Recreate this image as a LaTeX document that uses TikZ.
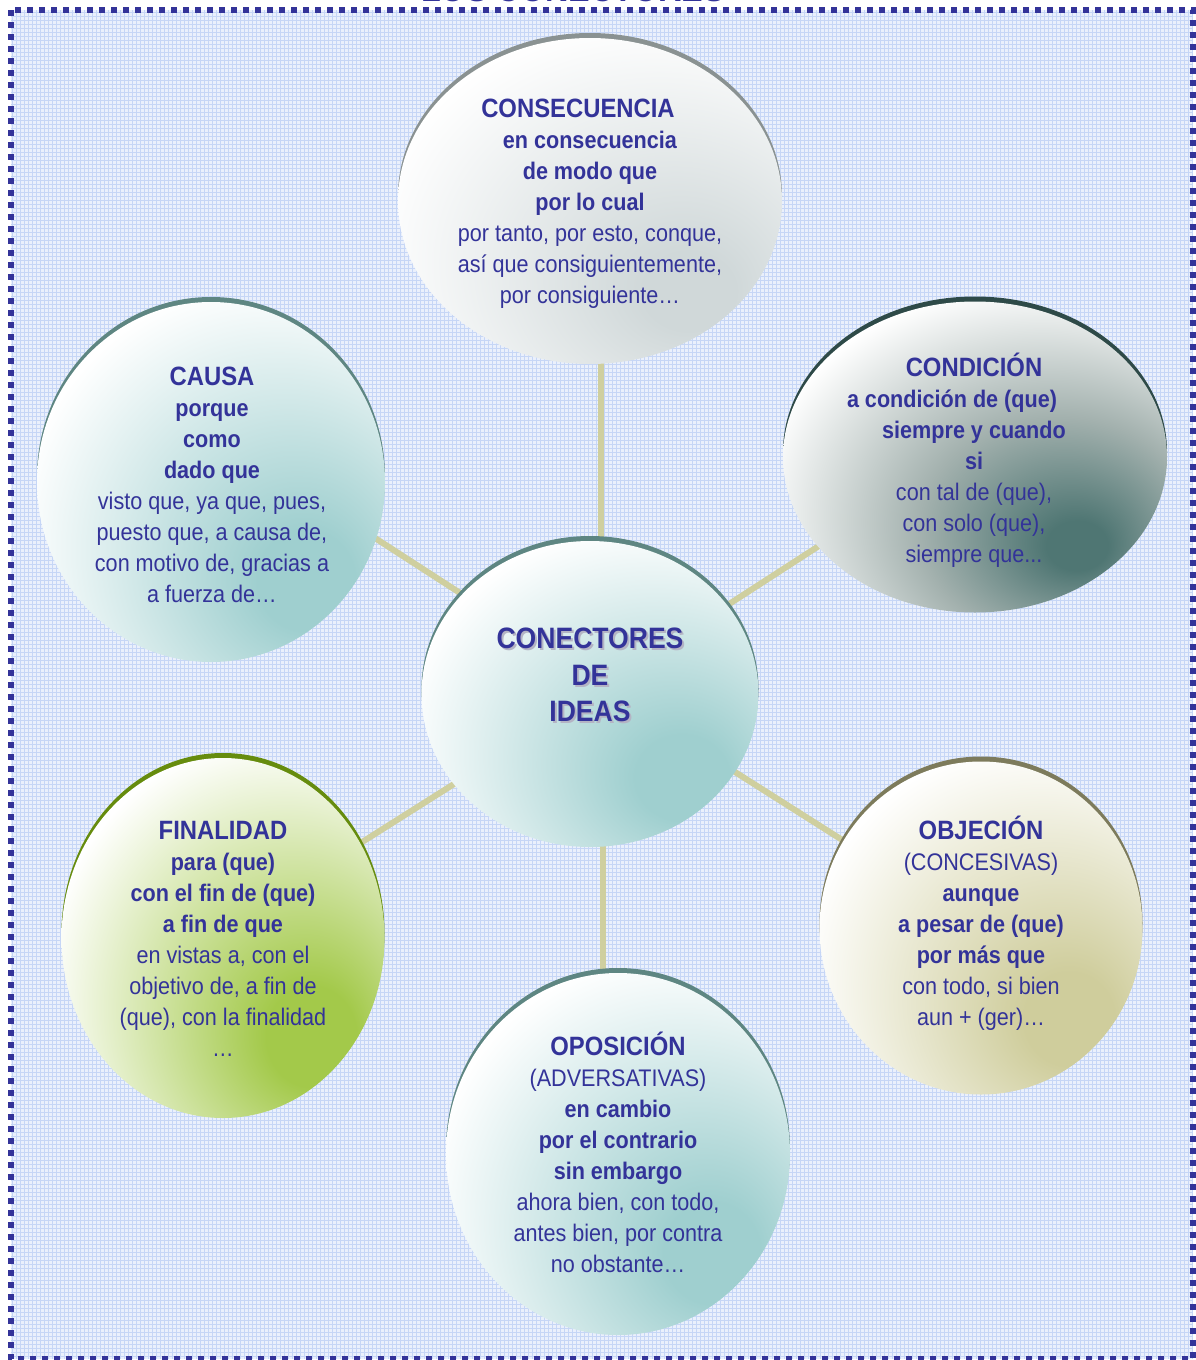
\documentclass[tikz,border=0pt]{standalone}
\usepackage{fontspec}
\setmainfont{Liberation Sans}[FakeStretch=0.9]
\usetikzlibrary{shapes.geometric}
\definecolor{ink}{HTML}{333399}
\definecolor{shadowc}{HTML}{B4B4C4}
\definecolor{bgfill}{HTML}{EAF0FC}
\definecolor{gridc}{HTML}{C6D6F6}
\definecolor{connc}{HTML}{CFCF9F}
\definecolor{dCons}{HTML}{D0D8D9}
\definecolor{rCons}{HTML}{8A9292}
\definecolor{dCond}{HTML}{4F7673}
\definecolor{mCond}{HTML}{A3B1AE}
\definecolor{rCond}{HTML}{2E4A48}
\definecolor{dTeal}{HTML}{9FCFCF}
\definecolor{rTeal}{HTML}{5E8682}
\definecolor{dFin}{HTML}{A3C94A}
\definecolor{rFin}{HTML}{668C0E}
\definecolor{dObj}{HTML}{CFCD9C}
\definecolor{rObj}{HTML}{7D7B5C}
\pgfdeclareradialshading{shCons}{\pgfpoint{14bp}{-15bp}}{color(0bp)=(dCons);color(6bp)=(dCons);color(36bp)=(white);color(80bp)=(white)}
\pgfdeclareradialshading{shCond}{\pgfpoint{14bp}{-15bp}}{color(0bp)=(dCond);color(4bp)=(dCond);color(18bp)=(mCond);color(36bp)=(white);color(80bp)=(white)}
\pgfdeclareradialshading{shTeal}{\pgfpoint{15bp}{-15bp}}{color(0bp)=(dTeal);color(7bp)=(dTeal);color(36bp)=(white);color(80bp)=(white)}
\pgfdeclareradialshading{shFin}{\pgfpoint{15bp}{-15bp}}{color(0bp)=(dFin);color(7bp)=(dFin);color(36bp)=(white);color(80bp)=(white)}
\pgfdeclareradialshading{shObj}{\pgfpoint{15bp}{-15bp}}{color(0bp)=(dObj);color(7bp)=(dObj);color(36bp)=(white);color(80bp)=(white)}
\pgfdeclarelayer{gridlayer}
\pgfdeclarelayer{linelayer}
\pgfsetlayers{gridlayer,linelayer,main}
\newcommand\hdf{\fontsize{26.5pt}{31pt}\selectfont\bfseries}
\newcommand\shd[1]{\makebox[0pt][l]{\hspace*{2pt}\raisebox{-2pt}{\textcolor{shadowc}{#1}}}#1}
\tikzset{
  bubble/.style={ellipse, inner sep=0pt, draw=none, shade},
  rim/.style={preaction={fill=#1, transform canvas={yshift=5pt}}},
  txt/.style={align=center, text=ink, inner sep=0pt, font=\fontsize{24pt}{31pt}\selectfont},
  conn/.style={draw=connc, line width=6pt},
  frame/.style={draw=ink, line width=6pt, dash pattern=on 6pt off 6pt},
}
\begin{document}
\begin{tikzpicture}[x=1pt, y=-1pt]
\useasboundingbox (0,0) rectangle (1196,1360);
\begin{pgfonlayer}{gridlayer}
  \fill[bgfill] (11,10) rectangle (1193,1359);
  \draw[gridc, line width=0.8pt, step=4pt] (11,1359) grid (1193,10);
  \draw[frame] (11,10) rectangle (1193,1359);
\end{pgfonlayer}
\node[anchor=base, text=ink, inner sep=0pt, font=\fontsize{36pt}{40pt}\selectfont\bfseries] (title) at (573,1.5) {LOS CONECTORES};
% bubbles
\node[bubble, shading=shCons, rim=rCons, minimum width=384pt, minimum height=326pt] (cons) at (590,201) {};
\node[bubble, shading=shCond, rim=rCond, minimum width=384pt, minimum height=311pt] (cond) at (975,457) {};
\node[bubble, shading=shTeal, rim=rTeal, minimum width=348pt, minimum height=360pt] (causa) at (211,482) {};
\node[bubble, shading=shTeal, rim=rTeal, minimum width=337pt, minimum height=306pt] (cent) at (590,694) {};
\node[bubble, shading=shFin, rim=rFin, minimum width=323pt, minimum height=360pt] (fin) at (223,938) {};
\node[bubble, shading=shObj, rim=rObj, minimum width=323pt, minimum height=333pt] (obj) at (981,928) {};
\node[bubble, shading=shTeal, rim=rTeal, minimum width=344pt, minimum height=362pt] (opo) at (618,1154) {};
% texts
\node[txt] (consT) at (590,204) {{\hdf CONSECUENCIA}\kern24pt\\ \textbf{en consecuencia}\\ \textbf{de modo que}\\ \textbf{por lo cual}\\ por tanto, por esto, conque,\\ así que consiguientemente,\\ por consiguiente…};
\node[txt] (condT) at (974,460) {{\hdf CONDICIÓN}\\ \textbf{a condición de (que)}\kern44pt\\ \textbf{siempre y cuando}\\ \textbf{si}\\ con tal de (que),\\ con solo (que),\\ siempre que...};
\node[txt] (causaT) at (212,485) {{\hdf CAUSA}\\ \textbf{porque}\\ \textbf{como}\\ \textbf{dado que}\\ visto que, ya que, pues,\\ puesto que, a causa de,\\ con motivo de, gracias a\\ a fuerza de…};
\node[txt] (finT) at (223,939) {{\hdf FINALIDAD}\\ \textbf{para (que)}\\ \textbf{con el fin de (que)}\\ \textbf{a fin de que}\\ en vistas a, con el\\ objetivo de, a fin de\\ (que), con la finalidad\\ …};
\node[txt] (objT) at (981,923) {{\hdf OBJECIÓN}\\ (CONCESIVAS)\\ \textbf{aunque}\\ \textbf{a pesar de (que)}\\ \textbf{por más que}\\ con todo, si bien\\ aun + (ger)…};
\node[txt] (opoT) at (618,1152) {{\hdf OPOSICIÓN}\\ (ADVERSATIVAS)\\ \textbf{en cambio}\\ \textbf{por el contrario}\\ \textbf{sin embargo}\\ ahora bien, con todo,\\ antes bien, por contra\\ no obstante…};
\node[txt, font=\fontsize{29.5pt}{36.5pt}\selectfont\bfseries] (centT) at (590,676) {\shd{CONECTORES}\\ \shd{DE}\\ \shd{IDEAS}};
% connectors
\begin{pgfonlayer}{linelayer}
  \draw[conn] ([xshift=11pt]cent.center) -- ([xshift=11pt]cons.center);
  \draw[conn] ([yshift=17pt]cent.center) -- ([yshift=50pt]causa.center);
  \draw[conn] (cent.center) -- ([yshift=12pt]cond.center);
  \draw[conn] ([yshift=-4pt]cent.center) -- ([yshift=8pt]fin.center);
  \draw[conn] ([yshift=14pt]cent.center) -- (obj.center);
  \draw[conn] ([xshift=13pt]cent.center) -- ([xshift=-15pt]opo.center);
\end{pgfonlayer}
\end{tikzpicture}
\end{document}
